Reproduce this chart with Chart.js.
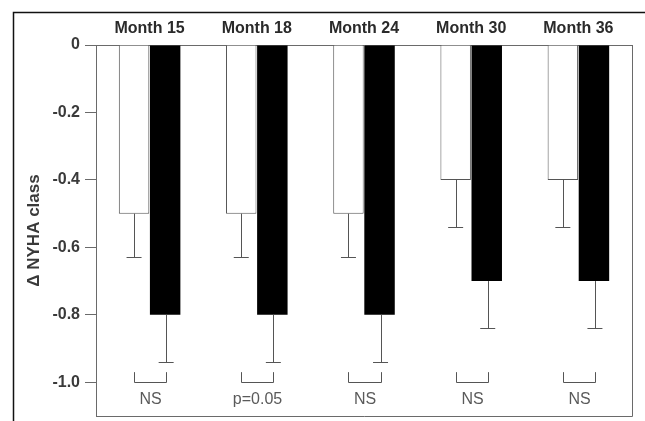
<!DOCTYPE html>
<html>
<head>
<meta charset="utf-8">
<script src="https://cdn.jsdelivr.net/npm/chart.js@4.4.0/dist/chart.umd.min.js"></script>
<style>
html,body{margin:0;padding:0;background:#fff;}
#wrap{width:645px;height:421px;position:relative;}
</style>
</head>
<body>
<div id="wrap"><canvas id="c" width="645" height="421"></canvas></div>
<script>
const categories = ['Month 15', 'Month 18', 'Month 24', 'Month 30', 'Month 36'];
const whiteValues = [-0.5, -0.5, -0.5, -0.4, -0.4];
const blackValues = [-0.8, -0.8, -0.8, -0.7, -0.7];
const whiteErrEnd = [-0.63, -0.63, -0.63, -0.54, -0.54];
const blackErrEnd = [-0.94, -0.94, -0.94, -0.84, -0.84];
const significance = ['NS', 'p=0.05', 'NS', 'NS', 'NS'];
const yTickValues = [0, -0.2, -0.4, -0.6, -0.8, -1.0];
const yTickLabels = ['0', '-0.2', '-0.4', '-0.6', '-0.8', '-1.0'];
const bracketTop = -0.97;
const bracketBottom = -1.0;
const labelValue = -1.05;

const FONT = "'Liberation Sans', Arial, Helvetica, sans-serif";
const AXIS = '#6a6a6a';

const overlay = {
  id: 'overlay',
  beforeDraw(chart) {
    const ctx = chart.ctx;
    ctx.save();
    ctx.strokeStyle = '#111';
    ctx.lineWidth = 1.5;
    ctx.beginPath();
    ctx.moveTo(13.5, 421);
    ctx.lineTo(13.5, 12.5);
    ctx.lineTo(645, 12.5);
    ctx.stroke();
    ctx.restore();
  },
  afterDatasetsDraw(chart) {
    const ctx = chart.ctx;
    const y = chart.scales.y;
    const a = chart.chartArea;
    ctx.save();
    ctx.strokeStyle = AXIS;
    ctx.lineWidth = 1;
    ctx.beginPath();
    ctx.moveTo(a.left, a.bottom + 0.5);
    ctx.lineTo(a.right + 0.5, a.bottom + 0.5);
    ctx.lineTo(a.right + 0.5, a.top);
    ctx.stroke();

    const m0 = chart.getDatasetMeta(0).data;
    const m1 = chart.getDatasetMeta(1).data;
    const cap = 7.5;
    ctx.strokeStyle = '#555';
    ctx.lineWidth = 1;
    const errBar = (x, v0, v1) => {
      const yA = y.getPixelForValue(v0), yB = y.getPixelForValue(v1);
      ctx.beginPath();
      ctx.moveTo(Math.round(x) + 0.5, yA);
      ctx.lineTo(Math.round(x) + 0.5, yB);
      ctx.moveTo(x - cap, Math.round(yB) + 0.5);
      ctx.lineTo(x + cap, Math.round(yB) + 0.5);
      ctx.stroke();
    };
    categories.forEach((c, i) => {
      errBar(m0[i].x, whiteValues[i], whiteErrEnd[i]);
      errBar(m1[i].x + 1, blackValues[i], blackErrEnd[i]);
      const x0 = Math.round(m0[i].x) + 0.5, x1 = Math.round(m1[i].x + 1) + 0.5;
      const yt = y.getPixelForValue(bracketTop), yb = Math.round(y.getPixelForValue(bracketBottom)) + 0.5;
      ctx.beginPath();
      ctx.moveTo(x0, yt); ctx.lineTo(x0, yb); ctx.lineTo(x1, yb); ctx.lineTo(x1, yt);
      ctx.stroke();
      ctx.fillStyle = '#5a5a5a';
      ctx.font = '16px ' + FONT;
      ctx.textAlign = 'center';
      ctx.textBaseline = 'middle';
      ctx.fillText(significance[i], (x0 + x1) / 2, y.getPixelForValue(labelValue));
    });
    ctx.restore();
  }
};

new Chart(document.getElementById('c'), {
  type: 'bar',
  data: {
    labels: categories,
    datasets: [
      { data: whiteValues, backgroundColor: '#ffffff', borderColor: '#555', borderWidth: 1,
        categoryPercentage: 0.58, barPercentage: 0.98 },
      { data: blackValues, backgroundColor: '#000000', borderColor: '#000', borderWidth: 0,
        categoryPercentage: 0.58, barPercentage: 0.98 }
    ]
  },
  options: {
    responsive: false,
    animation: false,
    layout: { autoPadding: false, padding: { left: 0, top: 0, right: 13, bottom: 5 } },
    plugins: { legend: { display: false }, tooltip: { enabled: false } },
    scales: {
      x: {
        position: 'top',
        offset: true,
        grid: { display: false },
        border: { display: true, color: AXIS },
        ticks: { color: '#2a2a2a', font: { family: FONT, size: 16, weight: 'bold' }, padding: -1 },
        afterFit(s) { s.height = 45; s.paddingLeft = 0; s.paddingRight = 0; }
      },
      y: {
        min: -1.1, max: 0,
        afterBuildTicks(s) { s.ticks = yTickValues.map(v => ({ value: v })); },
        grid: { display: true, drawOnChartArea: false, drawTicks: true, tickLength: 11, color: AXIS },
        border: { display: true, color: AXIS },
        ticks: {
          color: '#3a3a3a', font: { family: FONT, size: 16, weight: 'bold' }, padding: 5,
          callback(v) { const i = yTickValues.findIndex(t => Math.abs(t - v) < 1e-9); return i >= 0 ? yTickLabels[i] : ''; }
        },
        title: { display: true, text: '\u0394 NYHA class', color: '#3a3a3a', font: { family: FONT, size: 17, weight: 'bold' }, padding: { top: 24, bottom: 0 } },
        afterFit(s) { s.width = 96; s.paddingTop = 0; s.paddingBottom = 0; }
      }
    }
  },
  plugins: [overlay]
});
</script>
</body>
</html>
